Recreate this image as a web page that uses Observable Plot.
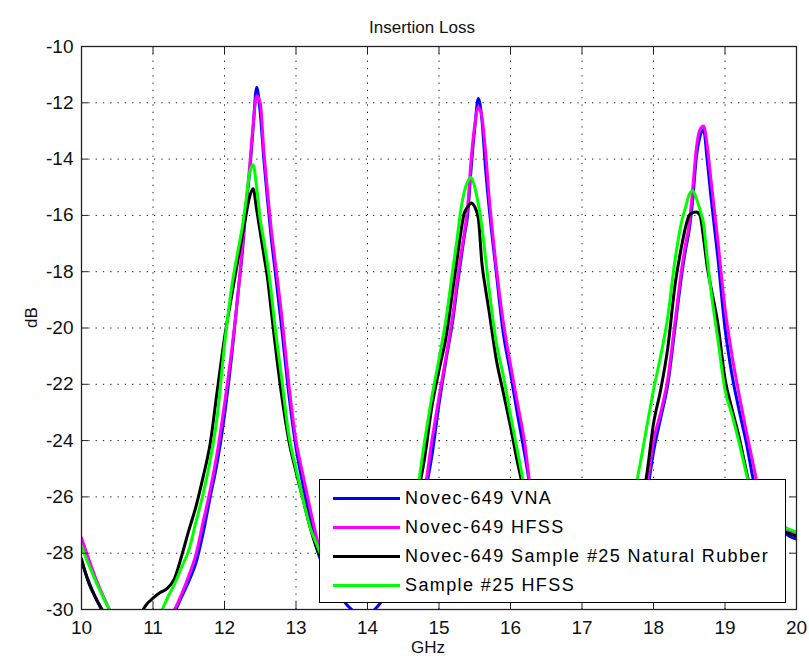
<!DOCTYPE html>
<html>
<head>
<meta charset="utf-8">
<script src="https://cdn.jsdelivr.net/npm/d3@7"></script>
<script src="https://cdn.jsdelivr.net/npm/@observablehq/plot@0.6"></script>
<style>
  html, body { margin: 0; padding: 0; background: #fff; }
  #wrap { position: relative; width: 809px; height: 669px; font-family: "Liberation Sans", Arial, Helvetica, sans-serif; }
  #legend { position: absolute; left: 319px; top: 479px; width: 467px; height: 124px; box-sizing: border-box;
            border: 1px solid #000; background: #fff; }
  .sw { position: absolute; left: 13px; width: 67px; height: 3px; }
  .lab { position: absolute; left: 85px; white-space: nowrap; font-size: 18px; letter-spacing: 1.4px; color: #000; line-height: 1; }
</style>
</head>
<body>
<div id="wrap"></div>
<script>
// ---- data ----
const freq = [
  10.0,10.1,10.2,10.3,10.4,10.5,10.6,10.7,10.8,10.9,
  11.0,11.1,11.2,11.3,11.4,11.5,11.6,11.7,11.8,11.9,
  12.0,12.1,12.2,12.25,12.3,12.35,12.4,12.45,12.5,12.55,12.6,12.65,12.7,12.8,12.9,
  13.0,13.1,13.2,13.3,13.4,13.5,13.6,13.7,13.8,13.9,
  14.0,14.1,14.2,14.3,14.4,14.5,14.6,14.7,14.8,14.9,
  15.0,15.1,15.2,15.25,15.3,15.35,15.4,15.45,15.5,15.55,15.6,15.65,15.7,15.8,15.9,
  16.0,16.1,16.2,16.3,16.4,16.5,16.6,16.7,16.8,16.9,
  17.0,17.1,17.2,17.3,17.4,17.5,17.6,17.7,17.8,17.9,
  18.0,18.1,18.2,18.3,18.4,18.45,18.5,18.55,18.6,18.65,18.7,18.75,18.8,18.9,
  19.0,19.1,19.2,19.3,19.4,19.5,19.6,19.7,19.8,19.9,20.0
];
const novecVNA = [
  -28.3,-29.0,-29.6,-30.1,-30.6,-31.0,-31.3,-31.5,-31.5,-31.4,
  -31.1,-30.8,-30.5,-30.1,-29.55,-29.0,-28.35,-27.3,-26.0,-24.75,
  -23.1,-21.0,-18.5,-17.3,-15.7,-14.5,-12.9,-11.45,-12.35,-14.0,-15.4,-16.7,-17.8,-20.0,-22.35,
  -24.25,-25.6,-26.8,-27.9,-28.6,-29.0,-29.45,-29.8,-30.05,-30.25,
  -30.2,-30.0,-29.7,-29.3,-28.9,-28.3,-27.6,-26.8,-25.9,-24.55,
  -22.7,-21.1,-19.6,-18.6,-17.7,-16.8,-16.0,-14.3,-12.9,-11.85,-12.6,-14.3,-15.7,-18.0,-20.2,
  -21.6,-23.1,-24.5,-26.0,-26.9,-27.6,-28.2,-28.7,-29.1,-29.4,
  -29.55,-29.6,-29.55,-29.4,-29.1,-28.7,-28.2,-27.6,-26.9,-26.0,
  -24.4,-23.2,-22.0,-20.0,-18.0,-17.2,-16.5,-15.4,-13.9,-13.2,-12.95,-14.0,-15.25,-17.5,
  -20.0,-21.7,-22.95,-24.1,-25.45,-26.4,-26.75,-27.0,-27.2,-27.4,-27.5
];
const novecHFSS = [
  -27.45,-28.2,-28.9,-29.5,-30.05,-30.5,-30.9,-31.1,-31.2,-31.1,
  -30.9,-30.6,-30.25,-30.0,-29.45,-28.8,-28.05,-26.9,-25.75,-24.4,
  -22.7,-20.8,-18.5,-17.1,-15.7,-14.3,-12.8,-11.75,-12.0,-13.7,-15.1,-16.4,-17.45,-19.55,-22.0,
  -24.0,-25.25,-26.45,-27.55,-28.4,-28.9,-29.25,-29.45,-29.55,-29.55,
  -29.45,-29.25,-28.95,-28.55,-28.05,-27.5,-26.9,-26.2,-25.7,-24.0,
  -22.45,-21.0,-19.4,-18.4,-17.5,-16.7,-15.7,-14.0,-12.8,-12.15,-12.5,-13.7,-15.3,-17.8,-19.8,
  -21.3,-22.7,-24.1,-26.1,-27.0,-27.8,-28.4,-28.85,-29.2,-29.35,
  -29.4,-29.35,-29.2,-28.95,-28.6,-28.15,-27.6,-27.0,-26.4,-25.7,
  -24.0,-23.0,-21.8,-19.8,-17.8,-17.0,-16.3,-15.0,-13.6,-12.95,-12.82,-13.5,-14.65,-16.9,
  -19.3,-21.0,-22.4,-23.7,-24.9,-26.1,-26.5,-26.8,-27.0,-27.2,-27.35
];
const rubberVNA = [
  -28.2,-29.05,-29.6,-30.05,-30.5,-30.8,-30.9,-30.7,-30.3,-29.85,
  -29.6,-29.4,-29.25,-28.9,-28.1,-27.2,-26.35,-25.3,-24.1,-22.2,
  -20.35,-18.85,-17.4,-16.7,-16.0,-15.35,-15.05,-15.8,-16.6,-17.4,-18.2,-19.3,-20.4,-22.4,-24.0,
  -25.1,-26.1,-27.1,-27.9,-28.4,-28.8,-29.1,-29.3,-29.4,-29.4,
  -29.3,-29.1,-28.8,-28.4,-27.9,-27.3,-26.7,-25.9,-24.6,-22.8,
  -21.5,-20.3,-18.5,-17.6,-16.7,-15.95,-15.7,-15.56,-15.7,-16.1,-17.7,-18.6,-19.4,-21.1,-22.3,
  -23.5,-24.8,-25.9,-26.8,-27.5,-28.1,-28.5,-28.8,-29.0,-29.1,
  -29.1,-29.0,-28.8,-28.55,-28.25,-27.9,-27.4,-26.9,-26.4,-25.3,
  -23.4,-22.2,-20.7,-18.5,-17.0,-16.4,-16.0,-15.9,-15.88,-16.0,-16.8,-17.8,-18.5,-19.85,
  -21.8,-22.9,-23.9,-25.1,-26.2,-26.6,-26.85,-27.05,-27.2,-27.3,-27.4
];
const sampleHFSS = [
  -27.75,-28.4,-29.0,-29.55,-30.05,-30.5,-30.8,-31.0,-31.0,-30.8,
  -30.5,-30.15,-29.6,-29.1,-28.5,-27.9,-26.9,-25.9,-24.7,-23.1,
  -20.6,-18.55,-17.1,-16.4,-15.5,-14.5,-14.2,-15.0,-16.15,-16.9,-17.7,-18.65,-19.8,-21.8,-23.8,
  -25.0,-26.1,-27.1,-27.75,-28.4,-28.8,-29.1,-29.3,-29.4,-29.4,
  -29.3,-29.1,-28.8,-28.4,-27.9,-27.3,-26.6,-25.7,-24.0,-22.45,
  -21.1,-19.65,-17.8,-16.9,-15.9,-15.2,-14.8,-14.65,-15.0,-15.6,-16.4,-17.5,-18.6,-20.5,-21.7,
  -23.1,-24.4,-25.7,-26.7,-27.5,-28.1,-28.5,-28.8,-29.0,-29.1,
  -29.1,-28.95,-28.7,-28.3,-27.8,-27.2,-26.6,-26.2,-25.0,-23.6,
  -22.2,-21.0,-19.6,-17.6,-16.15,-15.7,-15.25,-15.12,-15.4,-15.8,-16.3,-17.5,-18.6,-20.4,
  -22.2,-23.1,-24.1,-25.2,-26.2,-26.5,-26.7,-26.9,-27.05,-27.15,-27.25
];
const seriesNames = ["Novec-649 VNA", "Novec-649 HFSS", "Novec-649 Sample #25 Natural Rubber", "Sample #25 HFSS"];
const seriesColors = ["#0000ff", "#ff00ff", "#000000", "#00ff00"];
const xTicks = [10, 11, 12, 13, 14, 15, 16, 17, 18, 19, 20];
const yTicks = [-30, -28, -26, -24, -22, -20, -18, -16, -14, -12, -10];
const titleText = "Insertion Loss";
const xLabel = "GHz";
const yLabel = "dB";

// ---- build table ----
const allValues = [novecVNA, novecHFSS, rubberVNA, sampleHFSS];
const rows = [];
allValues.forEach((vals, si) => {
  freq.forEach((f, i) => rows.push({f, dB: vals[i], s: seriesNames[si]}));
});

const font = "'Liberation Sans', Arial, Helvetica, sans-serif";
const plain = d => String(d);
const chart = Plot.plot({
  width: 809, height: 669,
  marginLeft: 81, marginRight: 13, marginTop: 46, marginBottom: 60,
  style: {fontFamily: font, fontSize: "19px", color: "#111", background: "#fff", overflow: "visible"},
  x: {domain: [10, 20], label: null},
  y: {domain: [-30, -10], label: null},
  color: {domain: seriesNames, range: seriesColors},
  marks: [
    Plot.gridX(xTicks, {stroke: "#000", strokeOpacity: 0.9, strokeDasharray: "1.3,6"}),
    Plot.gridY(yTicks, {stroke: "#000", strokeOpacity: 0.9, strokeDasharray: "1.3,6"}),
    Plot.line(rows, {x: "f", y: "dB", z: "s", stroke: "s", strokeWidth: 3, clip: true, curve: "monotone-x"}),
    Plot.axisX(xTicks, {anchor: "bottom", tickSize: -7, tickFormat: () => "", stroke: "#222"}),
    Plot.axisX(xTicks, {anchor: "top", tickSize: -7, tickFormat: () => "", stroke: "#222"}),
    Plot.axisY(yTicks, {anchor: "left", tickSize: -7, tickFormat: () => "", stroke: "#222"}),
    Plot.axisY(yTicks, {anchor: "right", tickSize: -7, tickFormat: () => "", stroke: "#222"}),
    Plot.axisX(xTicks, {anchor: "bottom", tickSize: 0, tickPadding: 11, fontSize: 19, tickFormat: plain}),
    Plot.axisY(yTicks, {anchor: "left", tickSize: 0, tickPadding: 8, fontSize: 19, tickFormat: plain}),
    Plot.frame({stroke: "#222", strokeWidth: 1.3}),
    Plot.text([titleText], {frameAnchor: "top", dx: -17, dy: -26, fontSize: 17}),
    Plot.text([xLabel], {frameAnchor: "bottom", dx: -11, dy: 43, fontSize: 17}),
    Plot.text([yLabel], {frameAnchor: "left", dx: -50, rotate: -90, fontSize: 17})
  ]
});
const wrap = document.getElementById("wrap");
wrap.appendChild(chart);

// ---- legend (lower right, inside axes) ----
const legend = document.createElement("div");
legend.id = "legend";
const rowCenters = [18.5, 47.5, 76.5, 105.5];
seriesNames.forEach((name, i) => {
  const sw = document.createElement("div");
  sw.className = "sw";
  sw.style.top = (rowCenters[i] - 1.5) + "px";
  sw.style.background = seriesColors[i];
  legend.appendChild(sw);
  const lab = document.createElement("div");
  lab.className = "lab";
  lab.style.top = (rowCenters[i] - 9.5) + "px";
  lab.textContent = name;
  legend.appendChild(lab);
});
wrap.appendChild(legend);
</script>
</body>
</html>
